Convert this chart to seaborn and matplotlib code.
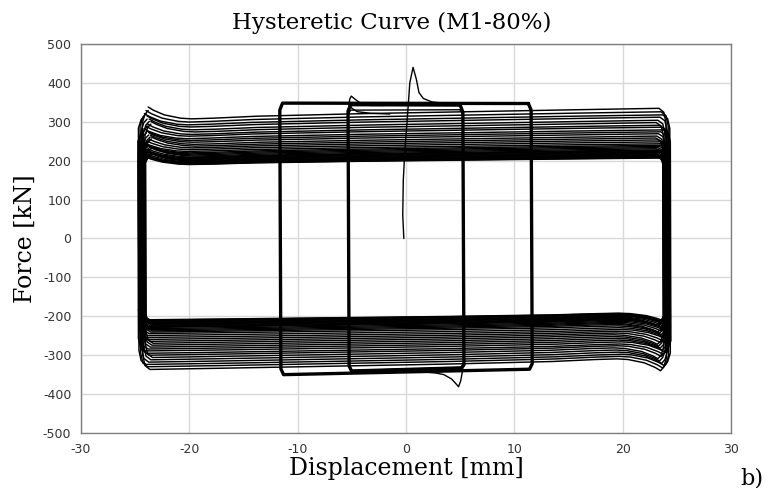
import matplotlib
matplotlib.use("Agg")
import matplotlib.pyplot as plt
import numpy as np
import pandas as pd
import seaborn as sns

# ---------------- data ----------------
x_ticks = [-30, -20, -10, 0, 10, 20, 30]
y_ticks = [-500, -400, -300, -200, -100, 0, 100, 200, 300, 400, 500]

# initial loading path (mm, kN)
init_disp = [-0.2, -0.3, -0.25, -0.1, 0.1, 0.35, 0.65, 0.95, 1.2, 1.6, 2.4, 4.0, 5.1]
init_force = [0, 60, 150, 230, 300, 400, 440, 410, 375, 360, 351, 346, 345]

# small loop A (about +-5.3 mm), two overlapping cycles
loopA_disp = [5.0, 5.25, 5.35, 5.1, -5.0, -5.25, -5.35, -5.1, 5.0]
loopA_force = [343, 325, -325, -334, -342, -328, 328, 344, 343]
loopA2_force = [331, 318, -318, -330, -338, -325, 320, 330, 331]
hookA_top_disp = [-5.3, -5.2, -5.05, -4.7, -4.2, -3.3, -2.0]
hookA_top_force = [330, 358, 366, 358, 348, 342, 342]
hookA2_top_disp = [-5.25, -5.0, -4.5, -3.3, -1.5]
hookA2_top_force = [342, 335, 326, 322, 320]
hookA_bot_disp = [5.25, 5.05, 4.85, 4.6, 4.2, 3.5, 2.8, 2.0]
hookA_bot_force = [-335, -366, -381, -373, -361, -350, -346, -344]

# small loop B (about +-11.6 mm)
loopB_disp = [11.3, 11.55, 11.65, 11.4, -11.3, -11.55, -11.65, -11.4, 11.3]
loopB_force = [347, 330, -322, -336, -350, -335, 330, 348, 347]

# last unloading stub at the left end
stub_disp = [-24.45, -24.6, -24.7]
stub_force = [-120, -165, -185]

# large cycles (about +-24.3 mm): peak force of each half cycle
pos_peaks = [338, 329, 321, 315, 307, 301, 294, 289, 282, 277, 272, 266, 261, 256,
             251, 246, 242, 239, 236, 233, 230, 228, 226, 224, 222, 220, 218, 216,
             214, 213, 212, 211, 210, 209]
neg_peaks = [340, 333, 327, 321, 315, 309, 303, 298, 292, 287, 282, 277, 272, 267,
             262, 257, 252, 247, 243, 240, 237, 234, 231, 229, 227, 225, 223, 221,
             219, 217, 215, 213, 212, 211]
# reversal displacement of each large cycle (mm)
left_rev = [-24.35, -24.55, -24.7, -24.45, -24.25, -24.1, -24.4, -24.6, -24.75, -24.5,
            -24.3, -24.15, -24.05, -24.3, -24.5, -24.7, -24.55, -24.4, -24.25, -24.1,
            -24.35, -24.55, -24.7, -24.45, -24.3, -24.15, -24.05, -24.3, -24.5, -24.65,
            -24.4, -24.2, -24.35, -24.55]
right_rev = [24.05, 24.25, 24.4, 24.15, 23.95, 23.8, 24.1, 24.3, 24.45, 24.2,
             24.0, 23.85, 23.75, 24.0, 24.2, 24.4, 24.25, 24.1, 23.95, 23.8,
             24.05, 24.25, 24.4, 24.15, 24.0, 23.85, 23.75, 24.0, 24.2, 24.35,
             24.1, 23.9, 24.05, 24.25]
# branch shape: travelled distance from the peak (mm) and force / peak force
branch_dist = [0, 0.5, 1.5, 3, 4, 6, 10, 20, 30, 40]
branch_ratio = [1.0, 0.975, 0.94, 0.915, 0.91, 0.915, 0.93, 0.95, 0.965, 0.98]
# reversal shape: distance inside the reversal point (mm) and force / peak force
turn_back = [0.7, 0.25, 0.05, 0.0, 0.25, 0.55]
turn_ratio = [0.99, 0.96, 0.88, -0.9, -0.97, -1.0]

# ---------------- build paths ----------------
def big_cycles():
    xs, fs, us = [], [], []
    for i, (p, n) in enumerate(zip(pos_peaks, neg_peaks)):
        L, R = left_rev[i], right_rev[i]
        cx, cf = [], []
        # upper branch (moving right), starting at the peak after reloading
        for s, r in zip(branch_dist, branch_ratio):
            cx.append(L + turn_back[5] + s); cf.append(p * r)
        # right reversal
        for k, (b, r) in enumerate(zip(turn_back, turn_ratio)):
            cx.append(R - b); cf.append(p * r if k < 3 else n * r)
        # lower branch (moving left)
        for s, r in zip(branch_dist[1:], branch_ratio[1:]):
            cx.append(R - turn_back[5] - s); cf.append(-n * r)
        # left reversal (reloading at the same displacement) into the next cycle
        if i + 1 < len(pos_peaks):
            p2 = pos_peaks[i + 1]
            for k, (b, r) in enumerate(zip(turn_back, turn_ratio)):
                cx.append(L + b)
                cf.append(-n * r if k < 3 else -p2 * r)
        else:
            for b, r in zip(turn_back[:3], turn_ratio[:3]):
                cx.append(L + b); cf.append(-n * r)
        xs += cx; fs += cf; us += [i] * len(cx)
    return pd.DataFrame({"disp": xs, "force": fs, "unit": us})

big = big_cycles()

thin_paths = [(init_disp, init_force), (hookA_top_disp, hookA_top_force),
              (hookA2_top_disp, hookA2_top_force), (hookA_bot_disp, hookA_bot_force),
              (loopA_disp, loopA2_force), (stub_disp, stub_force)]
thin = pd.concat([pd.DataFrame({"disp": d, "force": f, "unit": k})
                  for k, (d, f) in enumerate(thin_paths)], ignore_index=True)
thick_paths = [(loopA_disp, loopA_force), (loopB_disp, loopB_force)]
thick = pd.concat([pd.DataFrame({"disp": d, "force": f, "unit": k})
                   for k, (d, f) in enumerate(thick_paths)], ignore_index=True)

# ---------------- draw ----------------
sns.set_theme(style="whitegrid")
plt.rcParams["font.family"] = ["DejaVu Sans"]

fig = plt.figure(figsize=(7.75, 4.88), dpi=100)
ax = fig.add_axes([81 / 775, 1 - 433 / 488, 650 / 775, 389 / 488])

sns.lineplot(data=big, x="disp", y="force", units="unit", estimator=None, sort=False,
             color="black", lw=1.05, ax=ax)
sns.lineplot(data=thin, x="disp", y="force", units="unit", estimator=None, sort=False,
             color="black", lw=1.0, ax=ax)
sns.lineplot(data=thick, x="disp", y="force", units="unit", estimator=None, sort=False,
             color="black", lw=2.4, ax=ax)

ax.set_xlim(-30, 30)
ax.set_ylim(-500, 500)
ax.set_xticks(x_ticks)
ax.set_yticks(y_ticks)
ax.set_xticklabels([str(v) for v in x_ticks])
ax.set_yticklabels([str(v) for v in y_ticks])
ax.grid(True, color="#d9d9d9", lw=1.0)
ax.set_axisbelow(True)
ax.tick_params(axis="both", length=0, labelsize=9, colors="#333333", pad=7)
for sp in ax.spines.values():
    sp.set_color("#7f7f7f")
    sp.set_linewidth(1.0)

ax.set_xlabel("Displacement [mm]", family="DejaVu Serif", fontsize=17, color="black",
              labelpad=1)
ax.set_ylabel("Force [kN]", family="DejaVu Serif", fontsize=17, color="black",
              labelpad=4)
fig.text(392 / 775, 1 - 23 / 488, "Hysteretic Curve (M1-80%)", family="DejaVu Serif",
         fontsize=16.5, ha="center", va="center", color="black")
fig.text(752 / 775, 1 - 478 / 488, "b)", family="DejaVu Serif", fontsize=16,
         ha="center", va="center", color="black")

fig.savefig("out.png", dpi=100)
